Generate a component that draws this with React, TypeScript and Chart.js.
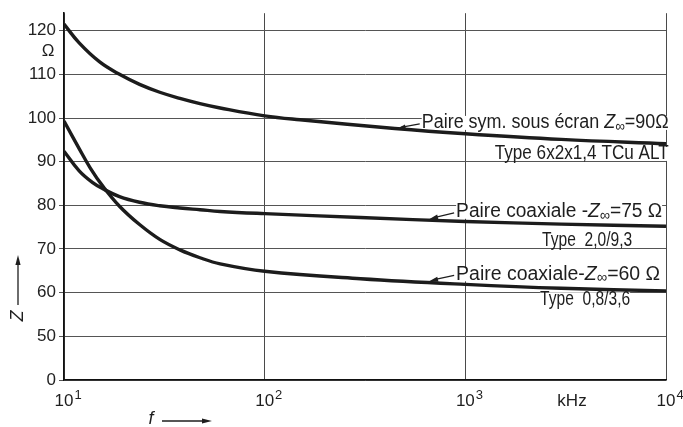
import React, { useEffect, useRef } from "react";
import { Chart, registerables } from "chart.js";

Chart.register(...registerables);

// ---- data (frequency in kHz, impedance in ohm) ----
const symFreq = [10, 11.9, 15, 18.9, 23.8, 30, 37.8, 47.6, 60, 100, 150, 445, 1000, 3000, 10000];
const symZ = [121.5, 117.2, 112.9, 110.0, 107.7, 105.9, 104.5, 103.3, 102.3, 100.5, 99.6, 97.6, 96.4, 95.1, 94.1];

const coax75Freq = [10, 11.9, 13.9, 15.6, 18.9, 23.8, 30, 37.8, 47.6, 60, 100, 300, 1000, 3000, 10000];
const coax75Z = [92.4, 87.9, 85.2, 83.8, 82.0, 80.7, 79.9, 79.4, 79.0, 78.6, 78.1, 77.2, 76.3, 75.7, 75.2];

const coax60Freq = [10, 11.9, 13.5, 15.6, 18.9, 23.8, 30, 37.8, 47.6, 60, 100, 300, 1000, 3000, 10000];
const coax60Z = [99.3, 93.0, 88.6, 84.4, 79.8, 75.6, 72.2, 69.8, 68.0, 66.6, 64.9, 63.2, 61.9, 61.0, 60.4];

const xTicks = [10, 100, 1000, 10000];
const xTickLabels = ["10^1", "10^2", "10^3", "10^4"];
const yTicks = [40, 50, 60, 70, 80, 90, 100, 110, 120];
const yTickLabels = ["0", "50", "60", "70", "80", "90", "100", "110", "120"];

const curveNames = [
  "Paire sym. sous écran Z∞=90Ω",
  "Paire coaxiale -Z∞=75 Ω",
  "Paire coaxiale-Z∞=60 Ω",
];
const curveTypes = ["Type 6x2x1,4 TCu ALT", "Type  2,0/9,3", "Type  0,8/3,6"];
// leader-arrow tip on each curve (kHz, ohm)
const tipFreq = [455, 660, 660];
const tipZ = [97.5, 76.8, 62.6];

const FONT = '"Liberation Sans", Arial, "DejaVu Sans", sans-serif';
const TEXT_SIZE = 20;

type Part = { t: string; italic?: boolean; sub?: boolean };

function splitName(name: string): Part[] {
  const i = name.indexOf("Z∞");
  if (i < 0) return [{ t: name }];
  return [
    { t: name.slice(0, i) },
    { t: "Z", italic: true },
    { t: "∞", sub: true },
    { t: name.slice(i + 2) },
  ];
}

function partFont(p: Part, size: number) {
  const s = p.sub ? size * 0.75 : size;
  return `${p.italic ? "italic " : ""}${s}px ${FONT}`;
}

function richWidth(ctx: CanvasRenderingContext2D, parts: Part[], size: number) {
  let w = 0;
  for (const p of parts) {
    ctx.font = partFont(p, size);
    w += ctx.measureText(p.t).width;
  }
  return w;
}

// draws condensed text so that it spans `target` pixels
function drawRich(ctx: CanvasRenderingContext2D, parts: Part[], x: number, y: number, size: number, target: number) {
  const w = richWidth(ctx, parts, size);
  const sx = Math.min(1, target / w);
  ctx.save();
  ctx.translate(x, y);
  ctx.scale(sx, 1);
  let cx = 0;
  ctx.textBaseline = "middle";
  ctx.textAlign = "left";
  for (const p of parts) {
    ctx.font = partFont(p, size);
    ctx.fillText(p.t, cx, p.sub ? size * 0.2 : 0);
    cx += ctx.measureText(p.t).width;
  }
  ctx.restore();
  return w * sx;
}

function arrowHead(ctx: CanvasRenderingContext2D, fx: number, fy: number, tx: number, ty: number, len: number, half: number) {
  const a = Math.atan2(ty - fy, tx - fx);
  ctx.beginPath();
  ctx.moveTo(tx, ty);
  ctx.lineTo(tx - len * Math.cos(a) + half * Math.sin(a), ty - len * Math.sin(a) - half * Math.cos(a));
  ctx.lineTo(tx - len * Math.cos(a) - half * Math.sin(a), ty - len * Math.sin(a) + half * Math.cos(a));
  ctx.closePath();
  ctx.fill();
}

// layout offsets (pixels) of texts relative to the arrow tips
const nameOffset = [
  { dx: 25, dy: -6, w: 247 },
  { dx: 27, dy: -7.5, w: 206 },
  { dx: 27, dy: -7, w: 204 },
];
const typeOffset = [
  { dx: 98, dy: 25, w: 174 },
  { dx: 113, dy: 21, w: 90 },
  { dx: 111, dy: 18, w: 90 },
];

const annotationPlugin = {
  id: "annotations",
  beforeDatasetsDraw(chart: any) {
    const ctx = chart.ctx as CanvasRenderingContext2D;
    const xs = chart.scales.x;
    const ys = chart.scales.y;
    ctx.save();
    ctx.fillStyle = "#ffffff";
    for (let i = 0; i < curveNames.length; i++) {
      const tx = xs.getPixelForValue(tipFreq[i]);
      const ty = ys.getPixelForValue(tipZ[i]);
      const o = nameOffset[i];
      ctx.fillRect(tx + o.dx, ty + o.dy - 7, o.w, 14);
      const t = typeOffset[i];
      ctx.fillRect(tx + t.dx, ty + t.dy - 7, t.w, 14);
    }
    ctx.restore();
  },
  afterDatasetsDraw(chart: any) {
    const ctx = chart.ctx as CanvasRenderingContext2D;
    const xs = chart.scales.x;
    const ys = chart.scales.y;
    ctx.save();
    ctx.fillStyle = "#1e1e1e";
    ctx.strokeStyle = "#1e1e1e";
    for (let i = 0; i < curveNames.length; i++) {
      const tx = xs.getPixelForValue(tipFreq[i]);
      const ty = ys.getPixelForValue(tipZ[i]);
      const o = nameOffset[i];
      drawRich(ctx, splitName(curveNames[i]), tx + o.dx, ty + o.dy, TEXT_SIZE, o.w);
      // leader
      const sx = tx + o.dx - 2;
      const sy = ty + o.dy + 1;
      ctx.lineWidth = 1.2;
      ctx.beginPath();
      ctx.moveTo(sx, sy);
      ctx.lineTo(tx + 4, ty - 1.5);
      ctx.stroke();
      arrowHead(ctx, sx, sy, tx, ty, 9, 2.6);
      const t = typeOffset[i];
      drawRich(ctx, [{ t: curveTypes[i] }], tx + t.dx, ty + t.dy, TEXT_SIZE, t.w);
    }

    // x tick labels with raised exponents, placed by the log scale
    ctx.textBaseline = "middle";
    for (const tk of xs.ticks) {
      const idx = xTicks.indexOf(tk.value);
      if (idx < 0) continue;
      const [base, exp] = xTickLabels[idx].split("^");
      const px = xs.getPixelForValue(tk.value);
      ctx.font = `17px ${FONT}`;
      ctx.textAlign = "center";
      ctx.fillText(base, px, 401);
      const bw = ctx.measureText(base).width;
      ctx.font = `13px ${FONT}`;
      ctx.textAlign = "left";
      ctx.fillText(exp, px + bw / 2 + 1, 395);
    }

    // unit labels and axis symbols
    ctx.font = `17px ${FONT}`;
    ctx.textAlign = "center";
    ctx.textBaseline = "middle";
    ctx.fillText("Ω", 48, 51);
    ctx.fillText("kHz", 572, 401);

    // f --->
    ctx.font = `italic 18px ${FONT}`;
    ctx.fillText("f", 151, 419);
    ctx.lineWidth = 1.3;
    ctx.beginPath();
    ctx.moveTo(162, 421);
    ctx.lineTo(205, 421);
    ctx.stroke();
    arrowHead(ctx, 162, 421, 212, 421, 10, 2.6);

    // Z rotated with upward arrow
    ctx.save();
    ctx.translate(18, 316);
    ctx.rotate(-Math.PI / 2);
    ctx.font = `italic 18px ${FONT}`;
    ctx.fillText("Z", 0, 0);
    ctx.restore();
    ctx.beginPath();
    ctx.moveTo(18, 305);
    ctx.lineTo(18, 262);
    ctx.stroke();
    arrowHead(ctx, 18, 305, 18, 255, 10, 2.6);
    ctx.restore();
  },
};

function toPoints(fs: number[], zs: number[]) {
  return fs.map((f, i) => ({ x: f, y: zs[i] }));
}

export default function App() {
  const ref = useRef<HTMLCanvasElement | null>(null);

  useEffect(() => {
    if (!ref.current) return;
    const lineStyle = {
      borderColor: "#1c1c1c",
      borderWidth: 3.4,
      pointRadius: 0,
      fill: false,
      tension: 0.4,
    };
    const chart = new Chart(ref.current, {
      type: "line",
      data: {
        datasets: [
          { label: curveNames[0], data: toPoints(symFreq, symZ), ...lineStyle },
          { label: curveNames[1], data: toPoints(coax75Freq, coax75Z), ...lineStyle },
          { label: curveNames[2], data: toPoints(coax60Freq, coax60Z), ...lineStyle },
        ],
      },
      options: {
        animation: false,
        responsive: false,
        maintainAspectRatio: false,
        layout: { padding: { top: 12, right: 17, left: 0, bottom: 0 } },
        plugins: { legend: { display: false }, tooltip: { enabled: false } },
        scales: {
          x: {
            type: "logarithmic",
            min: 10,
            max: 10000,
            afterBuildTicks: (s: any) => {
              s.ticks = xTicks.map((v) => ({ value: v }));
            },
            afterFit: (s: any) => {
              s.height = 47;
            },
            grid: { color: "#4a4a4a", lineWidth: 1, drawTicks: false },
            border: { display: true, color: "#111", width: 1.6 },
            ticks: { display: false, autoSkip: false },
          },
          y: {
            type: "linear",
            min: 40,
            max: 124,
            afterBuildTicks: (s: any) => {
              s.ticks = yTicks.map((v) => ({ value: v }));
            },
            afterFit: (s: any) => {
              s.width = 64;
            },
            grid: { color: "#555", lineWidth: 1, tickLength: 5 },
            border: { display: true, color: "#111", width: 1.6 },
            ticks: {
              autoSkip: false,
              padding: 3,
              color: "#222",
              font: { family: FONT, size: 17 },
              callback: (v: any) => {
                const i = yTicks.indexOf(Number(v));
                return i >= 0 ? yTickLabels[i] : "";
              },
            },
          },
        },
      },
      plugins: [annotationPlugin],
    });
    return () => chart.destroy();
  }, []);

  return (
    <div style={{ position: "fixed", left: 0, top: 0, width: 683, height: 427, background: "#fff" }}>
      <canvas ref={ref} width={683} height={427} style={{ width: 683, height: 427, display: "block" }} />
    </div>
  );
}
